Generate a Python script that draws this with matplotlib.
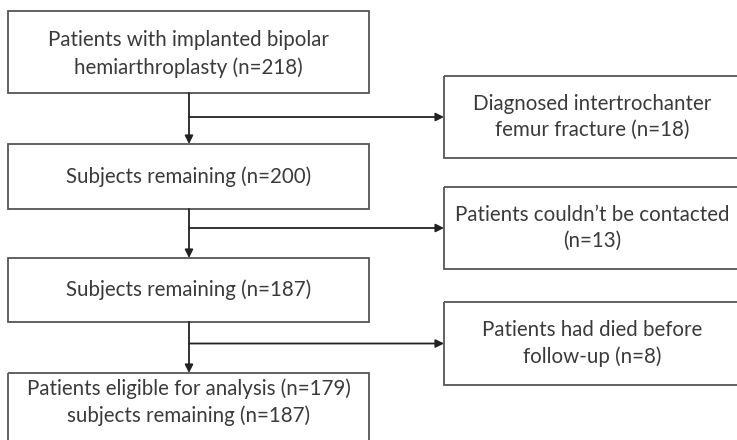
import matplotlib.pyplot as plt
from matplotlib.patches import Rectangle

# Textos del diagrama
main_labels = [
    "Patients with implanted bipolar\nhemiarthroplasty (n=218)",
    "Subjects remaining (n=200)",
    "Subjects remaining (n=187)",
    "Patients eligible for analysis (n=179)\nsubjects remaining (n=187)",
]
side_labels = [
    "Diagnosed intertrochanter\nfemur fracture (n=18)",
    "Patients couldn\u2019t be contacted\n(n=13)",
    "Patients had died before\nfollow-up (n=8)",
]

# Geometria en pixeles (x0, x1, y0, y1), y hacia abajo
main_boxes = [(8, 369, 11, 93), (8, 369, 144, 209), (8, 369, 258, 322), (8, 369, 373, 446)]
side_boxes = [(444, 741, 76, 158), (444, 741, 187, 269), (444, 741, 302, 385)]
main_text_y = [54, 177, 290, 402]
spine_x = 189

W, H = 737, 440
fig = plt.figure(figsize=(W / 100, H / 100), dpi=100)
ax = fig.add_axes([0, 0, 1, 1])
ax.set_xlim(0, W)
ax.set_ylim(H, 0)
ax.axis('off')

font = dict(family='Lato', fontsize=14.8, color='#3a3a3a', ha='center', va='center',
            linespacing=1.4)
edge = '#555555'

for (x0, x1, y0, y1), lab, ty in zip(main_boxes, main_labels, main_text_y):
    ax.add_patch(Rectangle((x0, y0), x1 - x0, y1 - y0, fill=False, ec=edge, lw=1.3))
    ax.text((x0 + x1) / 2, ty, lab, **font)

for (x0, x1, y0, y1), lab in zip(side_boxes, side_labels):
    ax.add_patch(Rectangle((x0, y0), x1 - x0, y1 - y0, fill=False, ec=edge, lw=1.3))
    ax.text(592, (y0 + y1) / 2, lab, **font)

arrow = dict(arrowstyle='-|>', color='#222222', lw=1.3, mutation_scale=12, shrinkA=0, shrinkB=0)
for i in range(3):
    top = main_boxes[i][3]
    bottom = main_boxes[i + 1][2]
    ax.annotate('', xy=(spine_x, bottom), xytext=(spine_x, top), arrowprops=arrow)
    sy = (side_boxes[i][2] + side_boxes[i][3]) / 2
    ax.annotate('', xy=(side_boxes[i][0], sy), xytext=(spine_x, sy), arrowprops=arrow)

fig.savefig('out.png', dpi=100, facecolor='white')
